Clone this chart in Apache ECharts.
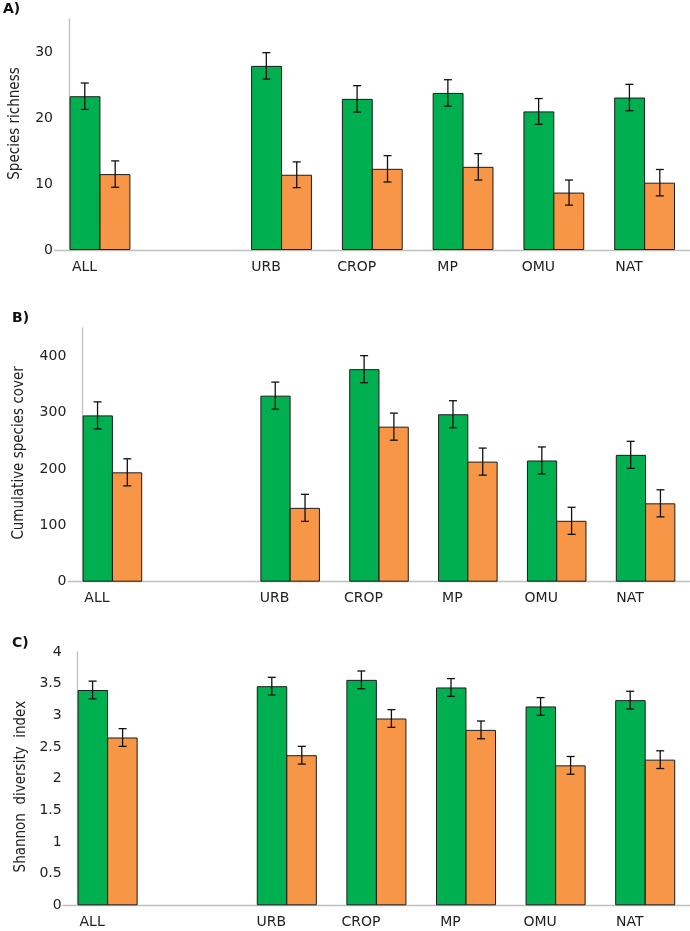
<!DOCTYPE html>
<html>
<head>
<meta charset="utf-8">
<script src="https://cdn.jsdelivr.net/npm/echarts@6/dist/echarts.min.js"></script>
<style>
  html, body { margin: 0; padding: 0; background: #fff; }
  #chart { width: 690px; height: 931px; }
</style>
</head>
<body>
<div id="chart"></div>
<script>
// categories (the empty one is the gap after ALL)
const categories = ['ALL', '', 'URB', 'CROP', 'MP', 'OMU', 'NAT'];

// A) species richness
const richnessGreen = [23.3, null, 27.9, 22.9, 23.8, 21.0, 23.1];
const richnessGreenErr = [2.0, null, 2.0, 2.0, 2.0, 1.95, 2.0];
const richnessOrange = [11.5, null, 11.4, 12.3, 12.6, 8.7, 10.2];
const richnessOrangeErr = [2.0, null, 1.95, 2.0, 2.0, 1.9, 2.0];

// B) cumulative species cover
const coverGreen = [295, null, 330, 377, 297, 215, 225];
const coverGreenErr = [24, null, 24, 24, 24, 24, 24];
const coverOrange = [194, null, 131, 275, 213, 108, 139];
const coverOrangeErr = [24, null, 24, 24, 24, 24, 24];

// C) shannon diversity index
const shannonGreen = [3.40, null, 3.46, 3.56, 3.44, 3.14, 3.24];
const shannonGreenErr = [0.14, null, 0.14, 0.14, 0.14, 0.14, 0.14];
const shannonOrange = [2.65, null, 2.37, 2.95, 2.77, 2.21, 2.30];
const shannonOrangeErr = [0.14, null, 0.14, 0.14, 0.14, 0.14, 0.14];

const GREEN = '#00b050';
const ORANGE = '#f79646';
const GAP = 0.33;
const tickFont = 'DejaVu Sans, Verdana, sans-serif';
const nameFont = "'Liberation Sans Narrow', 'DejaVu Sans Condensed', sans-serif";

const chart = echarts.init(document.getElementById('chart'));

const barSeries = (data, color, idx) => ({
	type: 'bar',
	xAxisIndex: idx,
	yAxisIndex: idx,
	data: data.map(v => (v == null ? '-' : v)),
	barGap: '-3%',
	barCategoryGap: (GAP * 100) + '%',
	itemStyle: { color: color, borderColor: '#1c1c1c', borderWidth: 1 },
	silent: true
});

// error bars drawn on top of each bar
const errorSeries = (means, errs, side, idx) => ({
	type: 'custom',
	xAxisIndex: idx,
	yAxisIndex: idx,
	z: 5,
	silent: true,
	data: means.map((m, i) => (m == null ? null : [i, m - errs[i], m + errs[i]])).filter(d => d),
	renderItem: (params, api) => {
		const lo = api.coord([api.value(0), api.value(1)]);
		const hi = api.coord([api.value(0), api.value(2)]);
		const band = api.size([1, 0])[0];
		const bw = band * (1 - GAP) / 2;
		const x = lo[0] + side * bw / 2;
		const style = { stroke: '#111', lineWidth: 1.3 };
		return {
			type: 'group',
			children: [
				{ type: 'line', shape: { x1: x, y1: hi[1], x2: x, y2: lo[1] }, style },
				{ type: 'line', shape: { x1: x - 4, y1: hi[1], x2: x + 4, y2: hi[1] }, style },
				{ type: 'line', shape: { x1: x - 4, y1: lo[1], x2: x + 4, y2: lo[1] }, style }
			]
		};
	}
});

const xAxisFor = (idx) => ({
	type: 'category',
	gridIndex: idx,
	data: categories,
	axisLine: { lineStyle: { color: '#bfbfbf', width: 1.3 } },
	axisTick: { show: false },
	axisLabel: {
		color: '#222',
		fontFamily: tickFont,
		fontSize: 14,
		margin: 10,
		padding: [0, 31, 0, 0]
	}
});

const yAxisFor = (idx, name, max, interval, offset, nameGap, shift) => ({
	type: 'value',
	gridIndex: idx,
	min: 0,
	max: max,
	interval: interval,
	offset: offset,
	name: name,
	nameLocation: 'middle',
	nameGap: nameGap,
	nameTextStyle: { color: '#222', fontFamily: nameFont, fontSize: 15, padding: shift },
	axisLine: { show: true, lineStyle: { color: '#bfbfbf', width: 1.3 } },
	axisTick: { show: false },
	splitLine: { show: false },
	axisLabel: { color: '#222', fontFamily: tickFont, fontSize: 14, margin: 16, showMaxLabel: max % interval === 0 }
});

const option = {
	animation: false,
	backgroundColor: '#fff',
	grid: [
		{ left: 50.6, width: 645.4, top: 19, height: 231 },
		{ left: 68, width: 633.5, top: 328, height: 253.7 },
		{ left: 62.8, width: 635, top: 652, height: 253.3 }
	],
	xAxis: [xAxisFor(0), xAxisFor(1), xAxisFor(2)],
	yAxis: [
		yAxisFor(0, 'Species richness', 35, 10, -14.4, 46, [0, 0, 0, 22]),
		yAxisFor(1, 'Cumulative species cover', 450, 100, -14.3, 56, [0, 0, 0, 4]),
		yAxisFor(2, 'Shannon  diversity  index', 4, 0.5, -14.9, 49, [0, 16, 0, 0])
	],
	graphic: [
		{ type: 'text', left: 3, top: 2, style: { text: 'A)', font: 'bold 14px DejaVu Sans', fill: '#111' } },
		{ type: 'text', left: 12, top: 311, style: { text: 'B)', font: 'bold 14px DejaVu Sans', fill: '#111' } },
		{ type: 'text', left: 12, top: 636, style: { text: 'C)', font: 'bold 14px DejaVu Sans', fill: '#111' } }
	],
	series: [
		barSeries(richnessGreen, GREEN, 0),
		barSeries(richnessOrange, ORANGE, 0),
		errorSeries(richnessGreen, richnessGreenErr, -1, 0),
		errorSeries(richnessOrange, richnessOrangeErr, 1, 0),
		barSeries(coverGreen, GREEN, 1),
		barSeries(coverOrange, ORANGE, 1),
		errorSeries(coverGreen, coverGreenErr, -1, 1),
		errorSeries(coverOrange, coverOrangeErr, 1, 1),
		barSeries(shannonGreen, GREEN, 2),
		barSeries(shannonOrange, ORANGE, 2),
		errorSeries(shannonGreen, shannonGreenErr, -1, 2),
		errorSeries(shannonOrange, shannonOrangeErr, 1, 2)
	]
};

chart.setOption(option);
</script>
</body>
</html>
